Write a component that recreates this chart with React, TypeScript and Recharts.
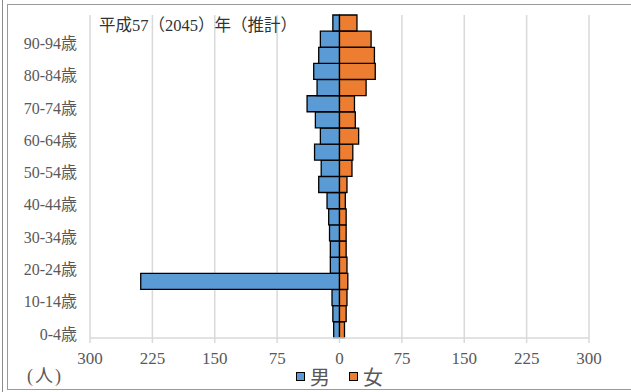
import { BarChart, Bar, XAxis, YAxis, CartesianGrid } from 'recharts'

// 年齢階級（下から上へ）
const ageGroups = [
  '0-4歳', '5-9歳', '10-14歳', '15-19歳', '20-24歳', '25-29歳', '30-34歳',
  '35-39歳', '40-44歳', '45-49歳', '50-54歳', '55-59歳', '60-64歳', '65-69歳',
  '70-74歳', '75-79歳', '80-84歳', '85-89歳', '90-94歳', '95歳以上',
]

// 男（人）
const maleValues = [7, 8, 9, 239, 11, 11, 12, 13, 15, 25, 22, 30, 23, 29, 39, 27, 31, 25, 23, 8]

// 女（人）
const femaleValues = [6, 8, 9, 10, 9, 8, 8, 8, 7, 9, 15, 16, 23, 19, 18, 32, 43, 42, 38, 21]

const xTicks = [-300, -225, -150, -75, 0, 75, 150, 225, 300]

const title = '平成57（2045）年（推計）'
const unitLabel = '(人)'

const MALE_COLOR = '#5B9BD5'
const FEMALE_COLOR = '#ED7D31'
const TEXT_COLOR = '#595959'
const GRID_COLOR = '#d9d9d9'
const FONT = '"Liberation Serif", "Noto Sans CJK JP", serif'

const legendItems = [
  { name: '男', color: MALE_COLOR },
  { name: '女', color: FEMALE_COLOR },
]

const data = ageGroups.map((age, i) => ({
  age,
  male: -maleValues[i],
  female: femaleValues[i],
}))

// Y axis tick, nudged down a little like the original
const AgeTick = ({ x, y, payload }: any) => (
  <text
    x={x}
    y={y + 4}
    dy="0.355em"
    textAnchor="end"
    fill={TEXT_COLOR}
    fontSize={16}
    fontFamily={FONT}
  >
    {payload.value}
  </text>
)

// X axis tick, absolute values on both sides
const CountTick = ({ x, y, payload }: any) => (
  <text
    x={x}
    y={y + 16}
    textAnchor="middle"
    fill={TEXT_COLOR}
    fontSize={17}
    fontFamily={FONT}
  >
    {Math.abs(payload.value)}
  </text>
)

// Legend drawn under the axis
const ChartLegend = () => (
  <div
    style={{
      position: 'absolute',
      left: 296,
      top: 362,
      display: 'flex',
      gap: 19,
      fontFamily: FONT,
      color: TEXT_COLOR,
    }}
  >
    {legendItems.map((item) => (
      <div key={item.name} style={{ display: 'flex', alignItems: 'center', gap: 5, fontSize: 20 }}>
        <div
          style={{
            width: 7,
            height: 7,
            backgroundColor: item.color,
            border: '1px solid #000',
          }}
        />
        <span>{item.name}</span>
      </div>
    ))}
  </div>
)

export default function App() {
  return (
    <div style={{ position: 'absolute', left: 0, top: 0, width: 631, height: 392, overflow: 'hidden', background: '#fff' }}>
      {/* frame */}
      <div style={{ position: 'absolute', left: 2, top: 0, width: 1, height: 392, background: '#8c8c8c' }} />
      <div
        style={{
          position: 'absolute',
          left: 7,
          top: 4,
          width: 660,
          height: 384,
          border: '1.5px solid #9a9a9a',
        }}
      />
      <BarChart
        width={631}
        height={392}
        data={data}
        layout="vertical"
        stackOffset="sign"
        barCategoryGap={0}
        margin={{ top: 15, right: 42, left: 0, bottom: 0 }}
      >
        <CartesianGrid stroke={GRID_COLOR} strokeWidth={1.5} horizontal={false} />
        <XAxis
          type="number"
          domain={[-300, 300]}
          ticks={xTicks}
          axisLine={{ stroke: GRID_COLOR, strokeWidth: 1.5 }}
          tickLine={{ stroke: GRID_COLOR, strokeWidth: 1.5 }}
          tickSize={5}
          tickMargin={5}
          height={54}
          tick={<CountTick />}
        />
        <YAxis
          type="category"
          dataKey="age"
          reversed
          interval={1}
          axisLine={false}
          tickLine={false}
          tickSize={0}
          tickMargin={13}
          width={90}
          tick={<AgeTick />}
        />
        <Bar
          dataKey="male"
          name="男"
          stackId="pop"
          fill={MALE_COLOR}
          stroke="#000"
          strokeWidth={1.3}
          isAnimationActive={false}
        />
        <Bar
          dataKey="female"
          name="女"
          stackId="pop"
          fill={FEMALE_COLOR}
          stroke="#000"
          strokeWidth={1.3}
          isAnimationActive={false}
        />
      </BarChart>
      <ChartLegend />
      <div
        style={{
          position: 'absolute',
          left: 99,
          top: 12,
          fontFamily: FONT,
          fontSize: 16.5,
          color: '#333',
          whiteSpace: 'nowrap',
        }}
      >
        {title}
      </div>
      <div
        style={{
          position: 'absolute',
          left: 27,
          top: 361,
          fontFamily: FONT,
          fontSize: 18,
          letterSpacing: 2,
          color: TEXT_COLOR,
          whiteSpace: 'nowrap',
        }}
      >
        {unitLabel}
      </div>
    </div>
  )
}
